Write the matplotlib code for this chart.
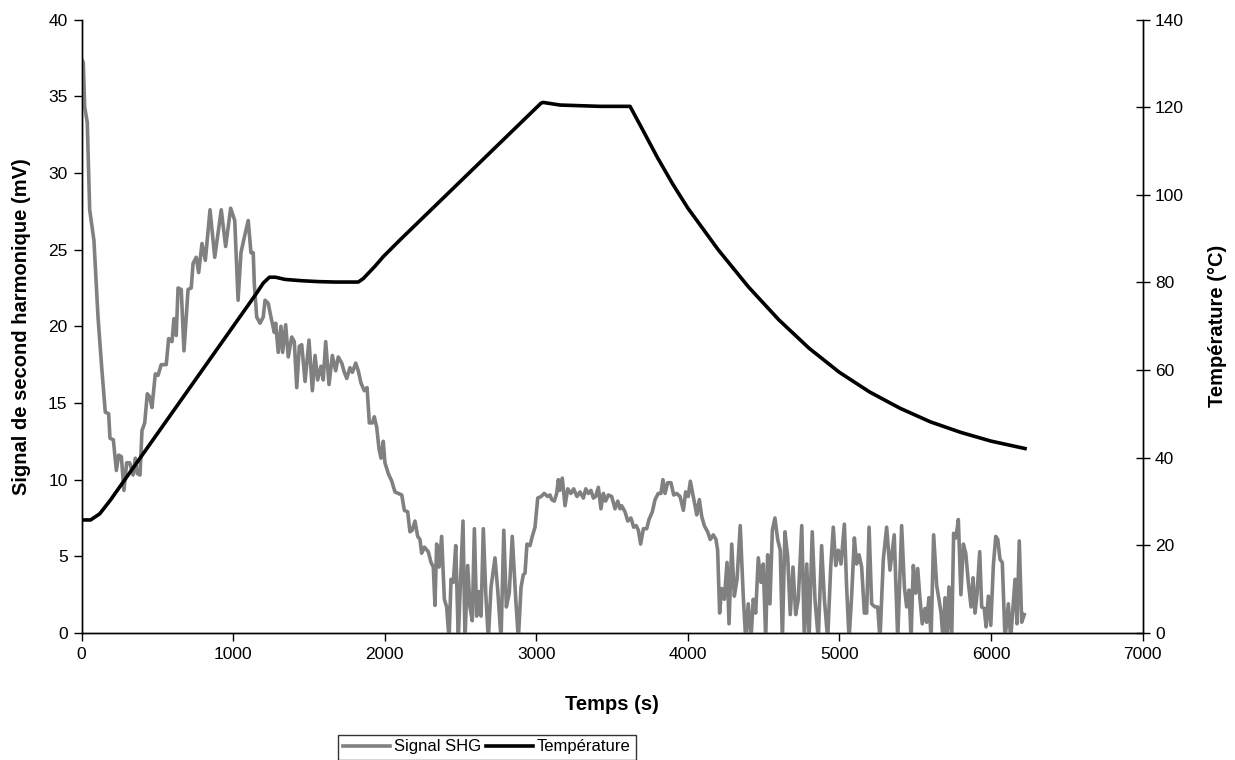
import matplotlib
matplotlib.use("Agg")
import matplotlib.pyplot as plt
from matplotlib.lines import Line2D

plt.rcParams['font.family'] = ['Liberation Sans', 'DejaVu Sans']

# ---- data ----
t_shg = [3, 12, 21, 38, 54, 82, 109, 135, 157, 179, 188, 210, 230, 245, 263, 280, 298, 318, 340, 355,
         368, 386, 399, 417, 434, 450, 465, 487, 505, 526, 559, 575, 597, 610, 625, 637, 658, 676, 703, 724,
         736, 757, 773, 795, 817, 848, 879, 922, 951, 984, 1011, 1033, 1052, 1074, 1100, 1118, 1133, 1140, 1156, 1178,
         1199, 1211, 1232, 1250, 1272, 1281, 1298, 1316, 1327, 1347, 1364, 1387, 1404, 1420, 1437, 1453, 1475, 1501, 1523, 1541,
         1558, 1580, 1595, 1611, 1633, 1655, 1677, 1694, 1717, 1734, 1750, 1771, 1787, 1809, 1826, 1844, 1866, 1884, 1899, 1919,
         1932, 1948, 1963, 1976, 1991, 2002, 2024, 2047, 2068, 2090, 2113, 2130, 2152, 2167, 2182, 2200, 2218, 2233, 2244, 2262,
         2288, 2306, 2321, 2332, 2343, 2359, 2376, 2394, 2409, 2425, 2438, 2453, 2469, 2486, 2499, 2517, 2530, 2548, 2563, 2578,
         2592, 2607, 2622, 2636, 2651, 2667, 2684, 2702, 2728, 2746, 2768, 2786, 2803, 2822, 2842, 2865, 2882, 2900, 2915, 2926,
         2939, 2959, 2974, 2992, 3010, 3032, 3053, 3076, 3091, 3102, 3119, 3135, 3146, 3155, 3172, 3190, 3208, 3229, 3247, 3269,
         3289, 3311, 3327, 3344, 3361, 3377, 3392, 3410, 3427, 3443, 3458, 3476, 3498, 3520, 3538, 3553, 3564, 3586, 3604, 3625,
         3643, 3660, 3674, 3689, 3707, 3729, 3744, 3766, 3784, 3805, 3823, 3836, 3850, 3867, 3889, 3907, 3927, 3949, 3971, 3986,
         4003, 4017, 4032, 4048, 4059, 4076, 4092, 4109, 4131, 4148, 4168, 4186, 4197, 4210, 4224, 4241, 4259, 4272, 4290, 4307,
         4325, 4346, 4366, 4382, 4399, 4417, 4432, 4448, 4465, 4483, 4498, 4514, 4527, 4542, 4558, 4575, 4593, 4610, 4624, 4641,
         4659, 4676, 4694, 4712, 4729, 4752, 4769, 4785, 4800, 4821, 4839, 4861, 4883, 4901, 4923, 4943, 4960, 4976, 4993, 5011,
         5033, 5048, 5064, 5081, 5099, 5114, 5130, 5147, 5165, 5180, 5196, 5213, 5235, 5253, 5268, 5290, 5312, 5334, 5362, 5385,
         5411, 5429, 5444, 5460, 5473, 5488, 5504, 5517, 5532, 5547, 5565, 5576, 5591, 5605, 5622, 5642, 5657, 5671, 5684, 5697,
         5710, 5723, 5741, 5754, 5769, 5785, 5802, 5818, 5834, 5851, 5869, 5882, 5895, 5908, 5926, 5939, 5956, 5968, 5983, 5999,
         6016, 6032, 6045, 6060, 6075, 6093, 6115, 6130, 6143, 6159, 6172, 6187, 6203, 6220]
v_shg = [37.4, 37.2, 34.3, 33.3, 27.6, 25.6, 20.6, 17.1, 14.4, 14.3, 12.7, 12.6, 10.6, 11.6, 11.5, 9.3, 11.1, 11.1, 10.3, 11.4,
         10.4, 10.3, 13.2, 13.7, 15.6, 15.4, 14.7, 16.9, 16.8, 17.5, 17.5, 19.2, 19.0, 20.5, 19.4, 22.5, 22.4, 18.4, 22.4, 22.5,
         24.1, 24.5, 23.5, 25.4, 24.3, 27.6, 24.5, 27.6, 25.2, 27.7, 26.9, 21.7, 24.8, 25.8, 26.9, 24.8, 24.8, 22.8, 20.6, 20.2,
         20.6, 21.7, 21.5, 20.6, 19.6, 20.2, 18.3, 20.0, 18.3, 20.1, 18.0, 19.3, 19.0, 16.0, 18.7, 18.8, 16.4, 19.1, 15.8, 18.1,
         16.5, 17.4, 16.5, 19.0, 16.2, 18.1, 17.1, 18.0, 17.6, 17.0, 16.6, 17.3, 17.0, 17.6, 17.1, 16.3, 15.8, 16.0, 13.7, 13.7,
         14.1, 13.4, 12.0, 11.4, 12.5, 11.1, 10.4, 9.9, 9.2, 9.1, 9.0, 8.0, 7.9, 6.6, 6.7, 7.3, 6.3, 6.1, 5.2, 5.6,
         5.3, 4.6, 4.3, 1.8, 5.8, 4.3, 6.3, 2.2, 1.7, -0.4, 3.5, 3.3, 5.7, -0.4, 3.0, 7.3, -0.4, 4.4, 1.7, 0.8,
         6.8, 1.1, 2.7, 1.1, 6.8, 2.6, -0.4, 3.0, 4.9, 2.8, -0.4, 6.7, 1.7, 2.6, 6.3, 2.2, -0.4, 3.0, 3.8, 3.9,
         5.8, 5.7, 6.3, 6.9, 8.8, 8.9, 9.1, 8.9, 9.0, 8.7, 8.6, 9.1, 10.0, 9.3, 10.1, 8.3, 9.4, 9.1, 9.4, 8.9,
         9.2, 8.8, 9.4, 9.1, 9.3, 8.8, 8.9, 9.5, 8.1, 9.1, 8.6, 9.0, 8.9, 8.1, 8.6, 8.1, 8.3, 7.9, 7.3, 7.5,
         6.9, 7.0, 6.7, 5.8, 6.8, 6.8, 7.4, 7.9, 8.7, 9.1, 9.1, 10.0, 9.1, 9.8, 9.8, 9.0, 9.1, 8.9, 8.0, 9.2,
         8.9, 9.9, 9.1, 8.3, 7.7, 8.7, 7.6, 7.0, 6.6, 6.1, 6.4, 6.1, 5.4, 1.3, 2.9, 2.2, 4.6, 0.6, 5.8, 2.4,
         3.5, 7.0, 2.4, -0.4, 1.9, -0.4, 2.2, 1.3, 4.9, 3.3, 4.5, -0.4, 5.1, 1.9, 6.7, 7.5, 6.1, 5.4, -0.4, 6.6,
         5.0, 1.2, 4.3, 1.2, 2.2, 7.0, -0.4, 4.5, -0.4, 6.6, 2.2, -0.4, 5.7, 2.2, -0.4, 4.3, 6.9, 4.4, 5.4, 4.5,
         7.1, 3.0, -0.4, 2.4, 6.2, 4.5, 5.1, 4.3, 1.3, 1.3, 6.9, 1.9, 1.7, 1.7, -0.4, 4.8, 6.9, 4.1, 6.4, -0.4,
         7.0, 3.0, 1.7, 2.8, -0.4, 4.4, 2.6, 4.2, 2.2, 0.6, 1.6, 0.7, 2.3, -0.4, 6.4, 3.1, 2.2, 1.3, -0.4, 2.3,
         -0.4, 3.0, -0.4, 6.5, 6.2, 7.4, 2.5, 5.8, 5.2, 3.3, 1.7, 3.6, 1.3, 2.5, 5.3, 1.7, 1.6, 0.4, 2.4, 0.5,
         4.4, 6.3, 6.1, 4.8, 4.6, -0.4, 1.9, -0.4, 1.3, 3.5, 0.6, 6.0, 0.7, 1.2]

t_temp = [0, 60, 120, 190, 1150, 1200, 1240, 1280, 1343, 1453, 1562, 1673, 1826, 1859, 1936, 1991, 2101,
          3031, 3045, 3157, 3421, 3619, 3700, 3800, 3900, 4000, 4200, 4400, 4600, 4800, 5000, 5200,
          5400, 5600, 5800, 6000, 6225]
v_temp = [25.8, 25.8, 27.2, 30.3, 77.3, 79.9, 81.2, 81.2, 80.7, 80.4, 80.2, 80.1, 80.1, 80.9, 83.7, 85.9, 89.7,
          120.9, 121.1, 120.5, 120.2, 120.2, 115.0, 108.5, 102.5, 97.0, 87.5, 79.0, 71.5, 65.0, 59.5, 55.0,
          51.3, 48.2, 45.8, 43.8, 42.1]

x_ticks = [0, 1000, 2000, 3000, 4000, 5000, 6000, 7000]
y_left_ticks = [0, 5, 10, 15, 20, 25, 30, 35, 40]
y_right_ticks = [0, 20, 40, 60, 80, 100, 120, 140]

# ---- figure ----
fig = plt.figure(figsize=(12.35, 7.6), dpi=100)
ax = fig.add_axes([81.5 / 1235, 1 - 633 / 760, (1142.5 - 81.5) / 1235, (633 - 19.6) / 760])
ax2 = ax.twinx()

ax.plot(t_shg, v_shg, color='#808080', lw=2.6, solid_joinstyle='round', zorder=3)
ax2.plot(t_temp, v_temp, color='black', lw=2.6, solid_joinstyle='round', zorder=3)

ax.set_xlim(0, 7000)
ax.set_ylim(0, 40)
ax2.set_ylim(0, 140)
ax.set_xticks(x_ticks)
ax.set_yticks(y_left_ticks)
ax2.set_yticks(y_right_ticks)

for a in (ax, ax2):
    for s in a.spines.values():
        s.set_color('black')
        s.set_linewidth(1.0)
    a.spines['top'].set_visible(False)

fs_tick = 12.5
fs_lab = 14.5
ax.tick_params(axis='x', direction='out', length=6, width=1, labelsize=fs_tick, pad=4)
ax.tick_params(axis='y', direction='out', length=6, width=1, labelsize=fs_tick, pad=4)
ax2.tick_params(axis='y', direction='inout', length=10, width=1, labelsize=fs_tick, pad=4)

ax.set_xlabel('Temps (s)', fontsize=fs_lab, fontweight='bold', labelpad=24)
ax.set_ylabel('Signal de second harmonique (mV)', fontsize=fs_lab, fontweight='bold', labelpad=12)
ax2.set_ylabel('Température (°C)', fontsize=fs_lab, fontweight='bold', labelpad=17)

handles = [Line2D([], [], color='#808080', lw=2.6), Line2D([], [], color='black', lw=2.6)]
leg = fig.legend(handles, ['Signal SHG', 'Température'], loc='center left',
                 bbox_to_anchor=(338 / 1235, 1 - 747 / 760), ncol=2, frameon=True,
                 fancybox=False, fontsize=12, handlelength=2.8, handletextpad=0.25,
                 columnspacing=0.3, borderpad=0.3, borderaxespad=0)
leg.get_frame().set_edgecolor('black')
leg.get_frame().set_linewidth(1.0)

fig.savefig('out.png', dpi=100)
